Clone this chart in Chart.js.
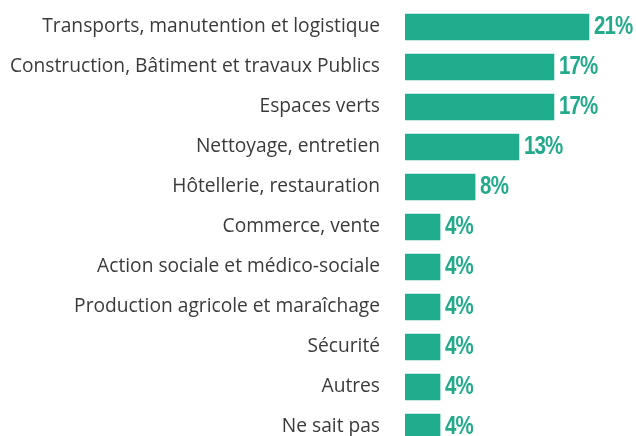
<!DOCTYPE html>
<html>
<head>
<meta charset="utf-8">
<script src="https://cdn.jsdelivr.net/npm/chart.js@4"></script>
<style>
  html, body { margin: 0; padding: 0; background: #fff; overflow: hidden; }
  #wrap { width: 636px; height: 460px; position: relative; }
</style>
</head>
<body>
<div id="wrap"><canvas id="myChart" width="636" height="460"></canvas></div>
<script>
// Secteurs et pourcentages
const categories = [
  "Transports, manutention et logistique",
  "Construction, Bâtiment et travaux Publics",
  "Espaces verts",
  "Nettoyage, entretien",
  "Hôtellerie, restauration",
  "Commerce, vente",
  "Action sociale et médico-sociale",
  "Production agricole et maraîchage",
  "Sécurité",
  "Autres",
  "Ne sait pas"
];
const valeurs = [21, 17, 17, 13, 8, 4, 4, 4, 4, 4, 4];

const couleurBarre = "#1fad8e";
const couleurTexte = "#22aa8b";

// Étiquettes de valeur au bout de chaque barre (police condensée simulée)
const etiquettes = {
  id: "etiquettes",
  afterDatasetsDraw(chart) {
    const ctx = chart.ctx;
    const meta = chart.getDatasetMeta(0);
    meta.data.forEach(function (bar, i) {
      ctx.save();
      ctx.font = "bold 25px 'Liberation Sans', Arial, sans-serif";
      ctx.fillStyle = couleurTexte;
      ctx.textAlign = "left";
      ctx.textBaseline = "alphabetic";
      if ("letterSpacing" in ctx) ctx.letterSpacing = "-1px";
      ctx.translate(bar.x + 5, bar.y + 7);
      ctx.scale(0.82, 1);
      ctx.fillText(valeurs[i] + "%", 0, 0);
      ctx.restore();
    });
  }
};

const ctx = document.getElementById("myChart").getContext("2d");
const myChart = new Chart(ctx, {
  type: "bar",
  data: {
    labels: categories,
    datasets: [
      {
        data: valeurs,
        backgroundColor: couleurBarre,
        borderWidth: 0,
        barThickness: 26,
      },
    ],
  },
  options: {
    indexAxis: "y",
    responsive: false,
    animation: false,
    layout: {
      padding: { top: 7, bottom: 13, left: 0, right: 12 },
    },
    scales: {
      x: {
        display: false,
        min: 0,
        max: 25,
      },
      y: {
        grid: { display: false, drawTicks: false },
        border: { display: false },
        ticks: {
          padding: 25,
          color: "#3a3a3a",
          font: { family: "'Open Sans', sans-serif", size: 19.2 },
        },
        afterFit: function (scale) {
          scale.width = 405;
          scale.paddingTop = 0;
          scale.paddingBottom = 0;
        },
      },
    },
    plugins: {
      legend: { display: false },
      tooltip: { enabled: false },
    },
  },
  plugins: [etiquettes],
});
</script>
</body>
</html>
